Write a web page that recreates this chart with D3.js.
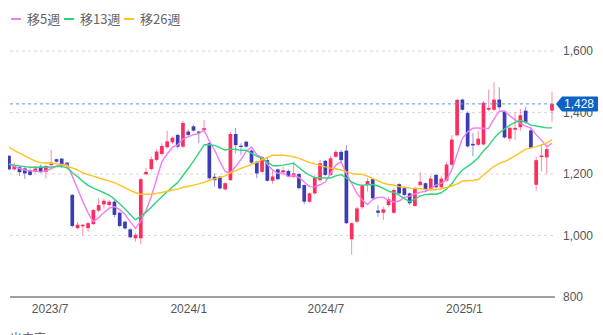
<!DOCTYPE html>
<html><head><meta charset="utf-8">
<script src="https://cdn.jsdelivr.net/npm/d3@7"></script>
<style>
html,body{margin:0;padding:0;background:#fff;overflow:hidden}
svg{display:block;font-family:"Noto Sans CJK JP","Noto Sans",sans-serif}
</style></head><body>
<svg id="chart" width="603" height="335"></svg>
<script>
// Weekly candles, first week starting Monday 2023-05-08
const firstWeek = "2023-05-08";

const opens = [1259,1215,1222,1218,1211,1207,1224,1207,1229,1248,1250,1237,1132,1024,1030,1024,1037,1081,1101,1099,
  1110,1074,1045,1020,991,991,1199,1216,1246,1265,1287,1303,1327,1289,1338,1355,1338,1343,1300,1191,
  1191,1150,1180,1330,1292,1305,1276,1240,1207,1245,1178,1215,1206,1210,1191,1200,1164,1110,1137,1180,
  1243,1197,1256,1272,1276,988,1045,1092,1164,1183,1081,1074,1099,1074,1167,1154,1137,1096,1164,1170,
  1150,1197,1157,1178,1230,1326,1442,1398,1298,1295,1296,1409,1409,1442,1404,1315,1344,1352,1406,1342,
  1165,1255,1254,1406];
const highs = [1262,1237,1226,1222,1218,1226,1231,1229,1278,1250,1252,1240,1135,1043,1037,1045,1086,1121,1118,1116,
  1116,1077,1048,1023,1009,1186,1219,1257,1280,1300,1340,1322,1332,1373,1345,1360,1340,1376,1305,1202,
  1194,1173,1337,1350,1300,1308,1280,1243,1258,1253,1215,1218,1224,1215,1240,1203,1166,1140,1197,1246,
  1246,1259,1278,1278,1294,1043,1094,1167,1186,1186,1099,1094,1126,1154,1170,1157,1140,1159,1205,1173,
  1195,1200,1195,1240,1326,1445,1445,1404,1333,1340,1437,1474,1499,1482,1406,1355,1400,1412,1418,1354,
  1256,1298,1295,1468];
const lows = [1212,1211,1194,1184,1194,1204,1204,1184,1226,1237,1219,1221,1026,1020,1000,1012,1034,1076,1088,1094,
  1060,1027,1020,991,980,971,1196,1211,1241,1260,1283,1298,1283,1284,1322,1338,1300,1332,1180,1159,
  1150,1147,1178,1267,1262,1286,1233,1186,1204,1175,1168,1180,1196,1190,1186,1150,1102,1106,1133,1175,
  1193,1195,1252,1240,1037,937,1040,1086,1143,1118,1061,1050,1094,1070,1133,1128,1099,1094,1159,1145,
  1145,1152,1150,1175,1224,1322,1406,1285,1258,1290,1292,1404,1404,1409,1316,1305,1310,1340,1363,1283,
  1146,1208,1200,1370];
const closes = [1215,1229,1206,1202,1197,1218,1207,1226,1237,1240,1229,1226,1031,1035,1035,1040,1083,1099,1113,1110,
  1067,1031,1023,994,1002,1183,1207,1248,1273,1291,1306,1318,1289,1366,1327,1341,1334,1349,1186,1180,
  1153,1170,1330,1294,1288,1289,1237,1202,1255,1178,1192,1183,1212,1192,1202,1154,1110,1137,1189,1235,
  1197,1251,1272,1245,1040,1040,1088,1161,1177,1121,1074,1085,1118,1148,1137,1132,1105,1154,1175,1148,
  1185,1157,1185,1231,1312,1441,1409,1290,1293,1315,1432,1415,1442,1417,1319,1350,1350,1391,1368,1285,
  1245,1260,1281,1428];

// Moving averages (5, 13 and 26 weeks)
const ma5 = [1232,1225,1218,1213,1210,1210,1206,1210,1217,1226,1228,1232,1193,1152,1111,1073,1045,1058,1074,1089,
  1094,1084,1069,1045,1023,1047,1082,1127,1183,1240,1265,1287,1295,1314,1321,1328,1331,1343,1307,1278,
  1240,1208,1204,1225,1247,1274,1288,1262,1254,1232,1213,1202,1204,1191,1196,1189,1174,1159,1158,1165,
  1174,1202,1229,1240,1201,1170,1137,1115,1101,1117,1124,1124,1115,1109,1112,1124,1128,1135,1141,1143,
  1153,1164,1170,1181,1214,1265,1316,1337,1349,1350,1348,1349,1379,1404,1405,1389,1376,1365,1356,1349,
  1328,1310,1288,1300];
const ma13 = [1233,1229,1226,1224,1222,1222,1222,1222,1223,1224,1225,1220,1205,1191,1176,1163,1154,1147,1139,1131,
  1119,1103,1086,1068,1051,1063,1076,1092,1110,1126,1142,1158,1172,1195,1218,1242,1268,1295,1295,1293,
  1286,1278,1281,1280,1277,1277,1268,1258,1251,1239,1227,1227,1229,1232,1235,1221,1207,1196,1188,1188,
  1187,1187,1194,1198,1187,1174,1166,1163,1165,1166,1161,1153,1144,1140,1131,1120,1110,1118,1129,1133,
  1135,1134,1139,1151,1168,1193,1213,1225,1237,1253,1275,1293,1316,1334,1346,1359,1368,1374,1369,1359,
  1356,1353,1350,1350];
const ma26 = [1287,1277,1268,1259,1250,1242,1237,1236,1235,1233,1231,1226,1220,1213,1204,1198,1193,1187,1182,1177,
  1172,1164,1156,1147,1139,1134,1134,1134,1137,1140,1144,1148,1151,1157,1160,1164,1168,1173,1179,1184,
  1189,1194,1204,1211,1218,1225,1231,1238,1247,1254,1261,1261,1261,1259,1256,1251,1244,1237,1233,1228,
  1223,1219,1217,1213,1207,1202,1199,1199,1193,1186,1178,1170,1166,1164,1159,1157,1154,1153,1152,1150,
  1149,1149,1152,1156,1161,1168,1177,1178,1179,1182,1197,1211,1225,1235,1240,1249,1259,1270,1280,1285,
  1289,1294,1301,1311];

const maNames = ["移5週", "移13週", "移26週"];
const maColors = ["#f27cf2", "#2fd47c", "#ffc21f"];

const yTicks = [800, 1000, 1200, 1400, 1600];
const xTickDates = ["2023-07-01", "2024-01-01", "2024-07-01", "2025-01-01"];
const xTickLabels = ["2023/7", "2024/1", "2024/7", "2025/1"];
const lastPrice = 1428;

const upColor = "#fd2d5e", downColor = "#3c3cb4";

const parse = d3.utcParse("%Y-%m-%d");
const start = parse(firstWeek);
const weeks = closes.map((_, i) => d3.utcMonday.offset(start, i));
const candles = weeks.map((d, i) => ({date: d, o: opens[i], h: highs[i], l: lows[i], c: closes[i]}));

const svg = d3.select("#chart");
const plotLeft = 10, plotRight = 555;

const x = d3.scaleUtc().domain([weeks[0], weeks[weeks.length - 1]]).range([9, 552]);
const y = d3.scaleLinear().domain([800, 1600]).range([297, 51]);

// horizontal grid
svg.append("g")
  .selectAll("line")
  .data(yTicks.filter(v => v > 800))
  .join("line")
  .attr("x1", plotLeft).attr("x2", plotRight)
  .attr("y1", d => y(d)).attr("y2", d => y(d))
  .attr("stroke", "#d9d9d9").attr("stroke-width", 1)
  .attr("stroke-dasharray", "3,3");

// y labels
const yAxis = svg.append("g")
  .attr("transform", `translate(${plotRight},0)`)
  .call(d3.axisRight(y).tickValues(yTicks).tickFormat(d3.format(",")).tickSize(0).tickPadding(8));
yAxis.select(".domain").remove();
yAxis.selectAll("text").attr("fill", "#555").attr("font-size", 12)
  .attr("font-family", "'Liberation Sans','DejaVu Sans',sans-serif");

// x labels
const xAxis = svg.append("g")
  .attr("transform", "translate(0,297)")
  .call(d3.axisBottom(x).tickValues(xTickDates.map(parse))
    .tickFormat((d, i) => xTickLabels[i]).tickSize(0).tickPadding(7));
xAxis.select(".domain").remove();
xAxis.selectAll("text").attr("fill", "#555").attr("font-size", 12)
  .attr("font-family", "'Liberation Sans','DejaVu Sans',sans-serif");

// base line at the bottom of the price range
svg.append("line")
  .attr("x1", plotLeft).attr("x2", plotRight)
  .attr("y1", y(800)).attr("y2", y(800))
  .attr("stroke", "#808080").attr("stroke-width", 1.5);

svg.append("clipPath").attr("id", "plotClip")
  .append("rect").attr("x", 8).attr("y", 40).attr("width", plotRight - 8 + 1).attr("height", 257);

const plot = svg.append("g").attr("clip-path", "url(#plotClip)");

// candles
const bodyW = 3.7;
const cg = plot.append("g").selectAll("g").data(candles).join("g");
cg.append("line")
  .attr("x1", d => x(d.date)).attr("x2", d => x(d.date))
  .attr("y1", d => y(d.h)).attr("y2", d => y(d.l))
  .attr("stroke", d => d.c >= d.o ? upColor : downColor)
  .attr("stroke-opacity", 0.55).attr("stroke-width", 1);
cg.append("rect")
  .attr("x", d => x(d.date) - bodyW / 2)
  .attr("width", bodyW)
  .attr("y", d => y(Math.max(d.o, d.c)))
  .attr("height", d => Math.max(1, Math.abs(y(d.o) - y(d.c))))
  .attr("fill", d => d.c >= d.o ? upColor : downColor);

// moving average lines
[ma5, ma13, ma26].forEach((series, k) => {
  plot.append("path")
    .datum(series)
    .attr("fill", "none")
    .attr("stroke", maColors[k])
    .attr("stroke-width", 1.4)
    .attr("stroke-linejoin", "round")
    .attr("d", d3.line().x((v, i) => x(weeks[i])).y(v => y(v)));
});

// latest price line
svg.append("line")
  .attr("x1", plotLeft).attr("x2", plotRight)
  .attr("y1", y(lastPrice)).attr("y2", y(lastPrice))
  .attr("stroke", "#5b9bd8").attr("stroke-width", 1)
  .attr("stroke-dasharray", "3,3");

const py = y(lastPrice);
svg.append("path")
  .attr("d", `M556,${py} L562,${py - 7.5} L597,${py - 7.5} Q598,${py - 7.5} 598,${py - 6.5} L598,${py + 6.5} Q598,${py + 7.5} 597,${py + 7.5} L562,${py + 7.5} Z`)
  .attr("fill", "#0b63c6");
svg.append("text")
  .attr("x", 579).attr("y", py).attr("dy", "0.35em")
  .attr("text-anchor", "middle")
  .attr("fill", "#fff").attr("font-size", 12)
  .attr("font-family", "'Liberation Sans','DejaVu Sans',sans-serif")
  .text(d3.format(",")(lastPrice));

// legend
const lg = svg.append("g").selectAll("g").data(maNames).join("g")
  .attr("transform", (d, i) => `translate(${[11, 64, 124][i]},19)`);
lg.append("line").attr("x1", 0).attr("x2", 10).attr("y1", 0).attr("y2", 0)
  .attr("stroke", (d, i) => maColors[i]).attr("stroke-width", 2);
lg.append("text").attr("x", 16).attr("y", 0).attr("dy", "0.36em")
  .attr("fill", "#666").attr("font-size", 13)
  .text(d => d);

// caption of the panel below, mostly cut off
svg.append("text").attr("x", 10).attr("y", 343)
  .attr("fill", "#555").attr("font-size", 12).text("出来高");
</script>
</body></html>
